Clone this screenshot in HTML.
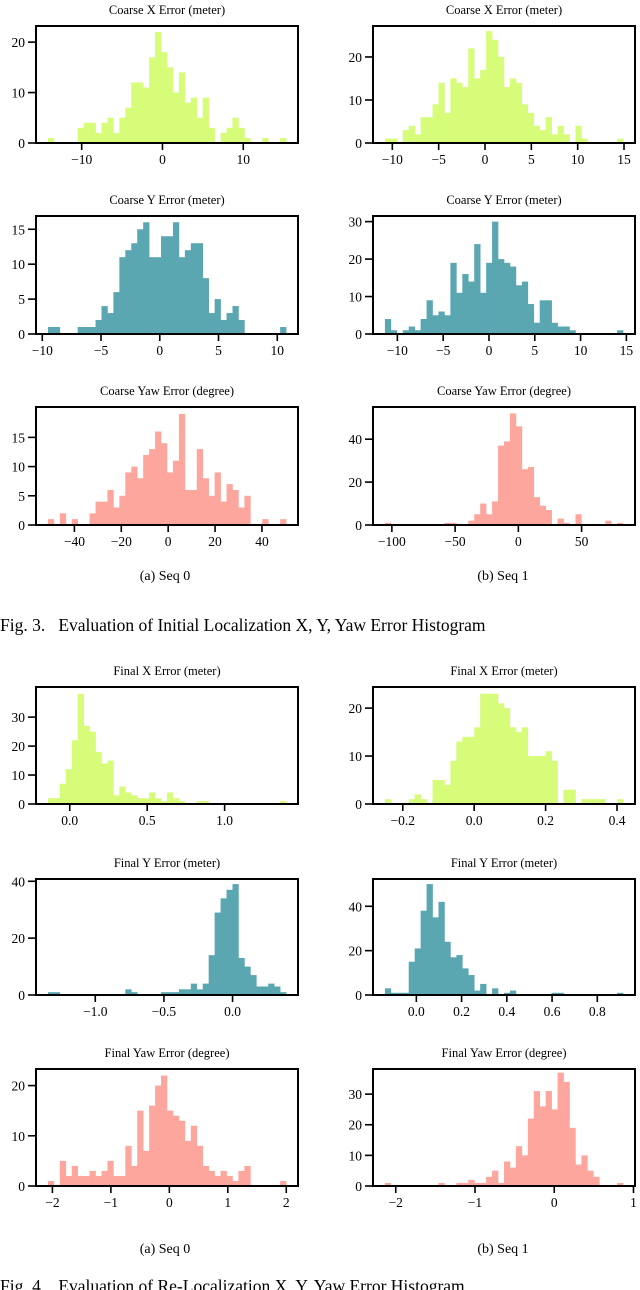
<!DOCTYPE html>
<html><head><meta charset="utf-8"><style>
html,body{margin:0;padding:0;background:#fff;}
svg{display:block;font-family:"Liberation Serif",serif;}
</style></head><body>
<svg id="fig" width="640" height="1290" viewBox="0 0 640 1290" xmlns="http://www.w3.org/2000/svg">
<text x="165" y="580" font-size="14" text-anchor="middle">(a) Seq 0</text>
<text x="503" y="580" font-size="14" text-anchor="middle">(b) Seq 1</text>
<text x="0" y="631" font-size="17.5" xml:space="preserve">Fig. 3.   Evaluation of Initial Localization X, Y, Yaw Error Histogram</text>
<text x="165" y="1253" font-size="14" text-anchor="middle">(a) Seq 0</text>
<text x="503" y="1253" font-size="14" text-anchor="middle">(b) Seq 1</text>
<text x="0" y="1292" font-size="17.5" xml:space="preserve">Fig. 4.   Evaluation of Re-Localization X, Y, Yaw Error Histogram</text>
</svg>
<script>
const titles = ["Coarse X Error (meter)","Coarse X Error (meter)","Coarse Y Error (meter)","Coarse Y Error (meter)","Coarse Yaw Error (degree)","Coarse Yaw Error (degree)","Final X Error (meter)","Final X Error (meter)","Final Y Error (meter)","Final Y Error (meter)","Final Yaw Error (degree)","Final Yaw Error (degree)"];
const binLo = [-14.18,-10.8,-9.52,-11.36,-51.3,-105.5,-0.141,-0.250,-1.345,-0.139,-2.077,-2.137];
const binHi = [15.3,14.9,10.75,14.64,50.3,82.8,1.397,0.417,0.390,0.914,1.997,0.869];
const yMax = [23.2,27.2,16.9,31.5,20.2,55,40.4,24.4,40.8,52.3,23.3,38.2];
const c1 = [1,0,0,0,0,3,4,4,2,4,5,2,5,7,12,12,11,17,22,18,15,10,14,8,9,5,9,3,0,2,3,5,3,1,0,0,1,0,0,1];
const c2 = [1,1,0,3,4,2,6,6,9,14,7,15,14,13,22,15,17,26,24,20,13,15,14,9,7,4,3,6,2,4,2,0,4,1,0,0,0,0,0,1];
const c3 = [1,1,0,0,0,1,1,1,2,4,3,6,11,12,13,15,16,11,11,14,14,16,11,12,13,13,8,3,5,2,3,4,2,0,0,0,0,0,0,1];
const c4 = [4,1,0,1,2,1,4,9,5,6,5,19,11,16,14,24,11,19,30,20,19,18,13,14,8,3,9,9,3,2,2,1,0,0,0,0,0,0,0,1];
const c5 = [1,0,2,0,1,0,0,2,4,4,6,3,5,9,10,8,12,13,16,14,9,11,19,6,6,13,8,5,9,4,7,6,3,5,0,0,1,0,0,1];
const c6 = [1,0,0,0,0,0,0,0,0,0,1,1,0,0,2,5,10,5,11,37,39,52,46,26,27,13,9,7,0,3,1,0,5,0,0,0,0,2,0,1];
const c7 = [2,2,7,12,22,38,27,25,18,14,15,3,6,4,3,2,2,4,2,1,4,2,1,0,0,1,1,0,0,0,0,0,0,0,0,0,0,0,0,1];
const c8 = [1,0,0,0,1,2,1,0,5,5,4,9,13,14,14,16,23,23,23,21,20,16,15,16,10,10,10,11,9,0,3,3,0,1,1,1,1,0,0,1];
const c9 = [1,1,0,0,0,0,0,0,0,0,0,0,0,2,1,0,0,0,0,1,1,1,2,2,4,2,4,14,29,34,37,39,13,10,7,3,3,4,3,1];
const c10 = [3,1,1,1,15,21,38,50,35,42,24,17,18,12,9,2,5,0,3,0,1,2,0,0,0,0,0,0,1,1,0,0,0,0,0,0,0,0,0,1];
const c11 = [1,0,5,2,4,2,2,3,2,3,5,2,2,8,4,15,7,16,20,22,15,14,13,9,12,8,4,3,2,3,2,1,3,4,0,0,0,0,0,1];
const c12 = [1,0,0,0,0,0,0,0,0,1,0,0,1,1,2,1,1,3,5,1,8,6,13,10,22,31,26,31,25,37,34,19,7,10,5,3,0,0,0,1];
const counts = [c1,c2,c3,c4,c5,c6,c7,c8,c9,c10,c11,c12];
const xTicks = [[-10,0,10],[-10,-5,0,5,10,15],[-10,-5,0,5,10],[-10,-5,0,5,10,15],[-40,-20,0,20,40],[-100,-50,0,50],[0,0.5,1],[-0.2,0,0.2,0.4],[-1,-0.5,0],[0,0.2,0.4,0.6,0.8],[-2,-1,0,1,2],[-2,-1,0,1]];
const xLabels = [["−10","0","10"],["−10","−5","0","5","10","15"],["−10","−5","0","5","10"],["−10","−5","0","5","10","15"],["−40","−20","0","20","40"],["−100","−50","0","50"],["0.0","0.5","1.0"],["−0.2","0.0","0.2","0.4"],["−1.0","−0.5","0.0"],["0.0","0.2","0.4","0.6","0.8"],["−2","−1","0","1","2"],["−2","−1","0","1"]];
const yTicks = [[0,10,20],[0,10,20],[0,5,10,15],[0,10,20,30],[0,5,10,15],[0,20,40],[0,10,20,30],[0,10,20],[0,20,40],[0,20,40],[0,10,20],[0,10,20,30]];
const colors = ["#d6fc7a","#d6fc7a","#5aa6b1","#5aa6b1","#fda69e","#fda69e","#d6fc7a","#d6fc7a","#5aa6b1","#5aa6b1","#fda69e","#fda69e"];
const boxTops = [26,216,407,687,879,1069];
const boxBots = [143,334,525,804,995,1186];
const colLeft = [36,373], colRight = [298,635];
const NS = "http://www.w3.org/2000/svg";
const svg = document.getElementById('fig');
function mk(tag, attrs, parent){const e=document.createElementNS(NS,tag);for(const k in attrs)e.setAttribute(k,attrs[k]);(parent||svg).appendChild(e);return e;}
for(let p=0;p<12;p++){
  const col=p%2,row=Math.floor(p/2);
  const L=colLeft[col],R=colRight[col],T=boxTops[row],B=boxBots[row];
  const lo=binLo[p],hi=binHi[p],span=hi-lo;
  const xmin=lo-0.05*span,xmax=hi+0.05*span;
  const xs=v=>L+(v-xmin)/(xmax-xmin)*(R-L);
  const ys=v=>B-v/yMax[p]*(B-T);
  const g=mk('g',{});
  
  
  const t=mk('text',{x:(L+R)/2,y:T-12,'font-size':12.5,'text-anchor':'middle'},g);
  
  
  t.textContent=titles[p];
  const n=counts[p].length,bw=span/n;
  counts[p].forEach((c,i)=>{
    if(c<=0)return;
    const x0=xs(lo+i*bw),x1=xs(lo+(i+1)*bw);
    const r=mk('rect',{x:x0,y:ys(c),width:x1-x0+0.3,height:B-ys(c),fill:colors[p]},g);
    
    
  });
  const box=mk('rect',{x:L,y:T,width:R-L,height:B-T,fill:'none',stroke:'#000','stroke-width':2},g);
  
  
  xTicks[p].forEach((v,i)=>{
    const x=xs(v);
    mk('line',{x1:x,x2:x,y1:B,y2:B+7,stroke:'#000','stroke-width':1.6},g);
    const tl=mk('text',{x:x,y:B+21,'font-size':13.5,'text-anchor':'middle'},g);
    
    
    tl.textContent=xLabels[p][i];
  });
  yTicks[p].forEach(v=>{
    const y=ys(v);
    mk('line',{x1:L-8,x2:L,y1:y,y2:y,stroke:'#000','stroke-width':1.6},g);
    const tl=mk('text',{x:L-11,y:y+5,'font-size':13.5,'text-anchor':'end'},g);
    
    
    tl.textContent=String(v);
  });
}
</script>
</body></html>
